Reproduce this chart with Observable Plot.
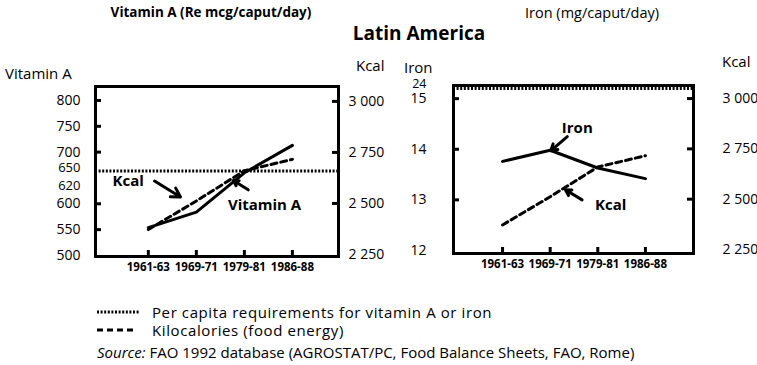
<!DOCTYPE html>
<html><head><meta charset="utf-8">
<script src="https://cdn.jsdelivr.net/npm/d3@7"></script>
<script src="https://cdn.jsdelivr.net/npm/@observablehq/plot@0.6"></script>
<style>
body{margin:0;background:#fff;font-family:"Open Sans",sans-serif;color:#000}
#wrap{position:relative;width:757px;height:365px;overflow:hidden;background:#fff}
.abs{position:absolute;white-space:nowrap;line-height:1}
.panel{position:absolute;top:0}
</style></head><body><div id="wrap"></div>
<script>
// ---- data ----
const periods = ["1961-63", "1969-71", "1979-81", "1986-88"];
const vitaminA = [554, 584, 660, 713];
const kcal = [2372, 2512, 2660, 2716];
const iron = [13.76, 13.98, 13.63, 13.42];
const vitaminAReq = 650;
const ironReq = 24;
const vitaminATickLabels = [500, 550, 600, 700, 750, 800];
const vitaminATickMarks = [550, 600, 700, 750, 800];
const ironTickLabels = [12, 13, 14, 15];
const ironTickMarks = [13, 14, 15];
const kcalTickLabels = [2250, 2500, 2750, 3000];
const kcalTickMarks = [2500, 2750, 3000];
const vitaminANotes = [{i: -0.42, v: 644, text: "Kcal"}, {i: 2.42, v: 597, text: "Vitamin A"}];
const vitaminAArrows = [{i1: 0.13, v1: 644, i2: 0.67, v2: 613}, {i1: 2.08, v1: 627, i2: 1.77, v2: 645}];
const ironNotes = [{i: 1.57, v: 14.42, text: "Iron"}, {i: 2.27, v: 12.9, text: "Kcal"}];
const ironArrows = [{i1: 1.36, v1: 14.25, i2: 1.01, v2: 13.97}, {i1: 1.67, v1: 13.0, i2: 1.32, v2: 13.2}];

const wrap = document.getElementById("wrap");
function label(text, x, y, {anchor = "start", size = 14, weight = "normal", style = "normal", spacing = 0} = {}) {
  const d = document.createElement("div");
  d.className = "abs";
  d.textContent = text;
  d.style.left = x + "px"; d.style.top = y + "px";
  d.style.fontSize = size + "px"; d.style.fontWeight = weight; d.style.fontStyle = style;
  d.style.letterSpacing = spacing + "px";
  const tx = anchor === "middle" ? "-50%" : anchor === "end" ? "-100%" : "0";
  d.style.transform = `translate(${tx},-50%)`;
  wrap.appendChild(d);
  return d;
}
const kcalFmt = k => d3.format(",")(k).replace(/,/g, " ");

function makePanel(o) {
  const plotW = o.width - o.ml - o.mr, plotH = o.height - o.mt - o.mb;
  const [y0, y1] = o.yDomain, [k0, k1] = o.kcalDomain;
  const toY = k => y0 + (k - k0) * (y1 - y0) / (k1 - k0);
  const idx = (d, i) => i;
  const txt = {fill: "black", fontSize: 14};
  const plot = Plot.plot({
    width: o.width, height: o.height,
    marginLeft: o.ml, marginRight: o.mr, marginTop: o.mt, marginBottom: o.mb,
    x: {type: "linear", domain: o.xDomain, axis: null},
    y: {type: "linear", domain: o.yDomain, axis: null},
    style: {fontFamily: "Open Sans", background: "transparent", overflow: "visible"},
    marks: [
      Plot.ruleY([o.req], {y: o.reqY, stroke: "black", strokeWidth: 3, strokeDasharray: "2,1.6", dy: o.reqDy || 0}),
      Plot.line(periods, {x: idx, y: (d, i) => o.values[i], stroke: "black", strokeWidth: 3}),
      Plot.line(periods, {x: idx, y: (d, i) => toY(kcal[i]), stroke: "black", strokeWidth: 3, strokeDasharray: "6,4"}),
      Plot.frame({stroke: "black", strokeWidth: 3}),
      Plot.tickY(o.leftMarks, {y: d => d, stroke: "black", strokeWidth: 3, insetRight: plotW - 6}),
      Plot.tickY(kcalTickMarks, {y: k => toY(k), stroke: "black", strokeWidth: 3, insetLeft: plotW - 6}),
      Plot.tickX(periods, {x: idx, stroke: "black", strokeWidth: 3, insetTop: plotH - 6}),
      Plot.text(o.leftLabels, {y: d => d, text: d => String(d), frameAnchor: "left", textAnchor: "end", dx: o.leftDx, ...txt}),
      Plot.text(kcalTickLabels, {y: k => toY(k), text: kcalFmt, frameAnchor: "right", textAnchor: "start", dx: o.rightDx, ...txt}),
      Plot.text(periods, {x: idx, text: d => d, frameAnchor: "bottom", dy: 14, fontSize: 11.5, fontWeight: "bold", fill: "black"}),
      ...(o.extra ? o.extra(txt) : []),
      Plot.arrow(o.arrows, {x1: "i1", y1: "v1", x2: "i2", y2: "v2", stroke: "black", strokeWidth: 3, headLength: 9, headAngle: 60}),
      Plot.text(o.notes, {x: "i", y: "v", text: "text", fontSize: 15, fontWeight: "bold", fill: "black"})
    ]
  });
  plot.classList.add("panel");
  plot.style.left = o.left + "px";
  wrap.appendChild(plot);
}

makePanel({
  left: 0, width: 400, height: 290, ml: 95, mr: 62, mt: 86, mb: 34,
  xDomain: [-1.1, 3.96], yDomain: [498, 827], kcalDomain: [2240, 3073],
  values: vitaminA, req: vitaminAReq, reqY: d => d, reqDy: -7,
  leftLabels: vitaminATickLabels, leftMarks: vitaminATickMarks,
  leftDx: -15, rightDx: 10, notes: vitaminANotes, arrows: vitaminAArrows,
  extra: txt => [
    Plot.text([650], {y: d => d, text: d => String(d), frameAnchor: "left", textAnchor: "end", dx: -15, dy: -10, ...txt, fontSize: 13}),
    Plot.text([620], {y: d => d, text: d => String(d), frameAnchor: "left", textAnchor: "end", dx: -15, dy: -8, ...txt, fontSize: 13})
  ]
});
const ironDomain = [11.94, 15.26];
makePanel({
  left: 380, width: 377, height: 290, ml: 73, mr: 64, mt: 85, mb: 37,
  xDomain: [-1.03, 4.01], yDomain: ironDomain, kcalDomain: [2230, 3065],
  values: iron, req: ironReq, reqY: d => Math.min(d, ironDomain[1]), reqDy: 3,
  leftLabels: ironTickLabels, leftMarks: ironTickMarks,
  leftDx: -27, rightDx: 29, notes: ironNotes, arrows: ironArrows,
  extra: txt => [Plot.text([ironReq], {y: d => Math.min(d, ironDomain[1]), text: d => String(d), frameAnchor: "left", textAnchor: "end", dx: -27, dy: -2, ...txt, fontSize: 12.5})]
});

// titles and axis names
label("Vitamin A (Re mcg/caput/day)", 211, 13, {anchor: "middle", size: 13.5, weight: "bold"});
label("Iron (mg/caput/day)", 592, 13, {anchor: "middle", size: 14.5});
label("Latin America", 419, 33, {anchor: "middle", size: 19, weight: "bold"});
label("Vitamin A", 5, 73, {size: 15});
label("Kcal", 356, 65, {size: 15});
label("Iron", 404, 67, {size: 15});
label("Kcal", 722, 61, {size: 15});

// legend
const ns = "http://www.w3.org/2000/svg";
function swatch(y, dash, x2) {
  const s = document.createElementNS(ns, "svg");
  s.setAttribute("width", 60); s.setAttribute("height", 8);
  s.style.position = "absolute"; s.style.left = "95px"; s.style.top = (y - 4) + "px";
  const l = document.createElementNS(ns, "line");
  l.setAttribute("x1", 2); l.setAttribute("x2", x2); l.setAttribute("y1", 4); l.setAttribute("y2", 4);
  l.setAttribute("stroke", "black"); l.setAttribute("stroke-width", 3); l.setAttribute("stroke-dasharray", dash);
  s.appendChild(l); wrap.appendChild(s);
}
swatch(312, "2,1.6", 45);
swatch(330, "6,4", 42);
label("Per capita requirements for vitamin A or iron", 152, 312, {size: 15, spacing: 0.6});
label("Kilocalories (food energy)", 152, 330, {size: 15, spacing: 0.6});
const src = label("", 97, 352, {size: 15});
src.innerHTML = "<i>Source:</i> FAO 1992 database (AGROSTAT/PC, Food Balance Sheets, FAO, Rome)";
</script></body></html>
